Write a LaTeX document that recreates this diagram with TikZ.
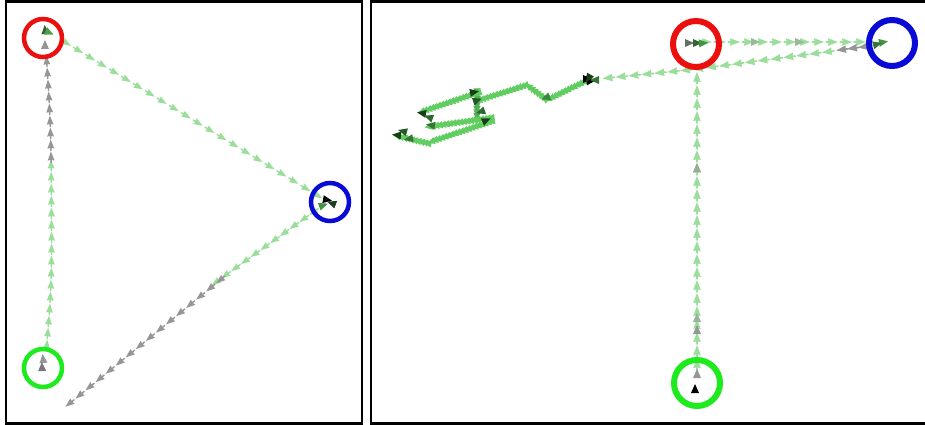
\documentclass[tikz,border=0pt]{standalone}
\usetikzlibrary{decorations.markings}
\definecolor{lg}{RGB}{155,222,155}
\definecolor{gy}{RGB}{150,150,150}
\definecolor{dg}{RGB}{25,60,25}
\definecolor{mg}{RGB}{95,205,95}
\definecolor{cred}{RGB}{235,15,15}
\definecolor{cblue}{RGB}{10,10,215}
\definecolor{cgreen}{RGB}{30,235,30}
\tikzset{
  trail/.style 2 args={decorate, decoration={markings,
      mark=between positions 0 and 1 step #2 with {\fill[#1] (3.5pt,0pt) -- (-5.5pt,3.4pt) -- (-5pt,0.8pt) -- (-8pt,0.6pt) -- (-8pt,-0.6pt) -- (-5pt,-0.8pt) -- (-5.5pt,-3.4pt) -- cycle;}}},
  btrail/.style 2 args={decorate, decoration={markings,
      mark=between positions 0 and 1 step #2 with {\fill[#1] (4pt,0pt) -- (-6pt,3.8pt) -- (-5.5pt,0.9pt) -- (-8.5pt,0.7pt) -- (-8.5pt,-0.7pt) -- (-5.5pt,-0.9pt) -- (-6pt,-3.8pt) -- cycle;}}},
  ftrail/.style 2 args={decorate, decoration={markings,
      mark=between positions 0 and 1 step #2 with {\fill[#1] (3pt,0pt) -- (-4.5pt,3.6pt) -- (-4.5pt,-3.6pt) -- cycle;}}},
  ring/.style={circle, line width=4.5pt, minimum size=38pt, inner sep=0pt},
  ringb/.style={circle, line width=6pt, minimum size=46pt, inner sep=0pt},
  frame/.style={line width=2.5pt},
  pics/tip/.style={code={\fill[rotate=#1] (4pt,0pt) -- (-5pt,4pt) -- (-5pt,-4pt) -- cycle;}}
}
\begin{document}
\begin{tikzpicture}[x=1pt,y=-1pt]
\useasboundingbox (0,0) rectangle (925,425);
\fill[white] (0,0) rectangle (925,425);
% frames
\draw[frame] (6,1.5) rectangle (362,423.5);
\draw[frame] (371,1.5) rectangle (928,423.5);

% ---------------- left panel ----------------
\coordinate (l1) at (68,44);
\coordinate (l2) at (320,197);
\coordinate (l3) at (47,343);
\coordinate (l4) at (51,155);
\coordinate (l5) at (46,50);
\coordinate (l6) at (312,213);
\coordinate (l7) at (205,290);
\coordinate (l8) at (219,281);
\coordinate (l9) at (64,408);
\path[trail={lg}{14pt}] (l1) -- (l2);
\path[trail={lg}{12pt}] (l3) .. controls (52,280) .. (l4);
\path[trail={gy}{12pt}] (l4) .. controls (50,100) and (47,70) .. (l5);
\path[trail={lg}{12pt}] (l6) -- (l7);
\path[trail={gy}{13pt}] (l8) -- (l9);
% tips inside circles
\pic[gy] at (45,44) {tip=90};
\pic[dg!70!gy] at (45,29) {tip=95};
\pic[mg!70!dg] at (50,33) {tip=-25};
\pic[dg] at (331,203) {tip=160};
\pic[mg!60!dg] at (324,205) {tip=20};
\pic[black] at (328,200) {tip=-10};
\pic[gy] at (43,358) {tip=95};
\pic[gy!80!black] at (42,366) {tip=92};
\node[ring, draw=cred] (rL) at (43,38) {};
\node[ring, draw=cblue] (bL) at (330,202) {};
\node[ring, draw=cgreen] (gL) at (43,368) {};

% ---------------- right panel ----------------
\coordinate (r1) at (708,42);
\coordinate (r2) at (870,42);
\coordinate (r3) at (862,47);
\coordinate (r4) at (832,51);
\coordinate (r5) at (826,52);
\coordinate (r6) at (697,69);
\coordinate (r7) at (598,79);
\coordinate (r8) at (697,362);
\coordinate (r9) at (697,72);
\path[btrail={lg}{14pt}] (r1) -- (r2);
\path[btrail={gy}{11pt}] (r3) -- (r4);
\path[btrail={lg}{13pt}] (r5) -- (r6) -- (r7);
\path[btrail={lg}{13pt}] (r8) -- (r9);
\pic[gy] at (697,329) {tip=90};
\pic[gy!60!lg] at (697,317) {tip=90};
\pic[gy!70!lg] at (697,167) {tip=90};
\pic[gy!50!lg] at (756,42) {tip=0};
\pic[gy!50!lg] at (800,42) {tip=0};
% cluster
\coordinate (c1) at (588,80);
\coordinate (c2) at (547,100);
\coordinate (c3) at (527,85);
\coordinate (c4) at (477,101);
\coordinate (c5) at (477,93);
\coordinate (c6) at (477,122);
\coordinate (c7) at (418,113);
\coordinate (c8) at (490,118);
\coordinate (c9) at (427,127);
\coordinate (c10) at (490,122);
\coordinate (c11) at (427,143);
\coordinate (c12) at (393,135);
\path[ftrail={mg}{3.5pt}] (c1) -- (c2) -- (c3) -- (c4);
\path[ftrail={mg!80!dg}{3.5pt}] (c5) -- (c6);
\path[ftrail={mg}{3.5pt}] (c5) -- (c7);
\path[ftrail={mg}{3.5pt}] (c8) -- (c9);
\path[ftrail={mg}{3.5pt}] (c10) -- (c11) -- (c12);
% dark tips in cluster
\pic[dg] at (475,92) {tip=10};
\pic[dg!80!mg] at (478,100) {tip=20};
\pic[dg] at (421,113) {tip=170};
\pic[dg!70!mg] at (428,117) {tip=160};
\pic[dg] at (487,120) {tip=25};
\pic[dg!70!mg] at (480,112) {tip=200};
\pic[dg] at (396,135) {tip=175};
\pic[dg!80!mg] at (402,131) {tip=165};
\pic[dg!60!mg] at (430,125) {tip=170};
\pic[dg!60!mg] at (408,139) {tip=190};
\pic[dg!50!mg] at (545,98) {tip=200};
% star
\pic[black] at (588,79) {tip=0};
\pic[black] at (588,79) {tip=120};
\pic[dg] at (588,79) {tip=240};
\pic[dg!60!mg] at (594,80) {tip=180};
% inside right circles
\pic[dg!70!mg] at (698,43) {tip=0};
\pic[mg!60!dg] at (704,43) {tip=5};
\pic[gy!60!dg] at (690,43) {tip=0};
\pic[mg!60!dg] at (884,42) {tip=10};
\pic[dg!60!mg] at (878,44) {tip=15};
\pic[black] at (695,388) {tip=90};
\pic[gy] at (697,373) {tip=90};
\node[ringb, draw=cred] (rR) at (696,44) {};
\node[ringb, draw=cblue] (bR) at (892,43) {};
\node[ringb, draw=cgreen] (gR) at (697,383) {};
\end{tikzpicture}
\end{document}
